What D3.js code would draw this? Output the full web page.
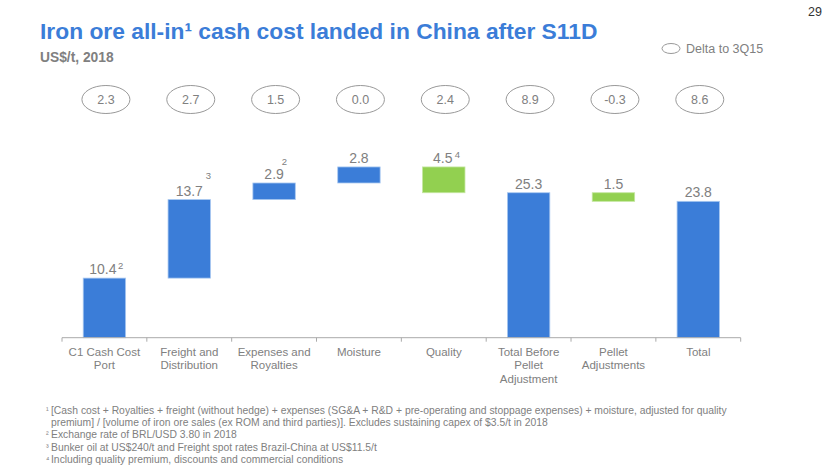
<!DOCTYPE html>
<html><head><meta charset="utf-8">
<script src="https://cdn.jsdelivr.net/npm/d3@7"></script>
<style>
body{margin:0;background:#fff;}
svg{display:block;font-family:"Liberation Sans",Arial,sans-serif;}
</style></head>
<body><svg id="c" width="830" height="467"></svg>
<script>
const categories = [["C1 Cash Cost","Port"],["Freight and","Distribution"],["Expenses and","Royalties"],["Moisture"],["Quality"],["Total Before","Pellet","Adjustment"],["Pellet","Adjustments"],["Total"]];
const values = [10.4, 13.7, 2.9, 2.8, -4.5, 25.3, -1.5, 23.8];
const barTypes = ["total","step","step","step","step","total","step","total"];
const labels = ["10.4","13.7","2.9","2.8","4.5","25.3","1.5","23.8"];
const supers = ["2","3","2","","4","","",""];
const deltas = ["2.3","2.7","1.5","0.0","2.4","8.9","-0.3","8.6"];
const footnotes = [
  ["¹", "[Cash cost + Royalties + freight (without hedge) + expenses (SG&A + R&D + pre-operating and stoppage expenses) + moisture, adjusted for quality"],
  ["", "premium] /  [volume of iron ore sales (ex ROM and third parties)]. Excludes sustaining capex of $3.5/t  in 2018"],
  ["²", "Exchange rate of BRL/USD 3.80 in 2018"],
  ["³", "Bunker oil at US$240/t and Freight spot rates Brazil-China at US$11.5/t"],
  ["⁴", "Including quality premium, discounts and commercial conditions"]
];

const svg = d3.select("#c");
const blue = "#3B7DD8", green = "#92D050", gray = "#808080";

// compute waterfall segments
let run = 0;
const segs = values.map((v,i) => {
  let y0, y1;
  if (barTypes[i] === "total") { y0 = 0; y1 = v; run = v; }
  else { y0 = run; y1 = run + v; run = y1; }
  return {i, lo: Math.min(y0,y1), hi: Math.max(y0,y1), neg: v < 0};
});

const x = d3.scaleBand().domain(d3.range(categories.length)).range([62, 740.7]).paddingInner(0.5).paddingOuter(0.25);
const y = d3.scaleLinear().domain([0, 30]).range([337.7, 165.8]);

// title
svg.append("text").attr("x", 40).attr("y", 38.5).attr("fill", blue)
  .attr("font-size", 22.8).attr("font-weight", "bold")
  .text("Iron ore all-in¹ cash cost landed in China after S11D");
svg.append("text").attr("x", 40).attr("y", 61.7).attr("fill", gray)
  .attr("font-size", 13.8).attr("font-weight", "bold").text("US$/t, 2018");
svg.append("text").attr("x", 822).attr("y", 15.5).attr("text-anchor","end").attr("fill", "#333")
  .attr("font-size", 12.5).text("29");

// legend
svg.append("ellipse").attr("cx", 671).attr("cy", 48.5).attr("rx", 9).attr("ry", 5)
  .attr("fill", "none").attr("stroke", "#999").attr("stroke-width", 1);
svg.append("text").attr("x", 686).attr("y", 52.5).attr("fill", gray).attr("font-size", 12.5).text("Delta to 3Q15");

// bubbles
const bub = svg.append("g").selectAll("g").data(deltas).join("g")
  .attr("transform", (d,i) => `translate(${x(i) + x.bandwidth()/2 + 1.5},99.5)`);
bub.append("ellipse").attr("rx", 24).attr("ry", 14).attr("fill", "none").attr("stroke", "#999").attr("stroke-width", 1);
bub.append("text").attr("text-anchor", "middle").attr("y", 4.5).attr("fill", gray).attr("font-size", 12.5).text(d => d);

// bars
svg.append("g").selectAll("rect").data(segs).join("rect")
  .attr("x", d => x(d.i)).attr("width", x.bandwidth())
  .attr("y", d => y(d.hi)).attr("height", d => y(d.lo) - y(d.hi))
  .attr("fill", d => d.neg ? green : blue)
  .attr("stroke", d => d.neg ? "#c4e6a0" : "#a9c8f0").attr("stroke-width", 0.8);

// value labels
const labShift = [-1.5, 0, 0, 0, -1, 0, 0, 0];
svg.append("g").selectAll("text").data(segs).join("text")
  .attr("x", d => x(d.i) + x.bandwidth()/2 + labShift[d.i])
  .attr("y", d => y(d.hi) - 4)
  .attr("text-anchor", "middle").attr("fill", gray).attr("font-size", 14)
  .text(d => labels[d.i]);

// superscripts (offset from bar centre / bar top)
const supOff = [[13.5, -9.6], [16.5, -20.4], [7.7, -17.7], [0,0], [11, -9], [0,0],[0,0],[0,0]];
svg.append("g").selectAll("text").data(segs.filter(d => supers[d.i])).join("text")
  .attr("x", d => x(d.i) + x.bandwidth()/2 + supOff[d.i][0])
  .attr("y", d => y(d.hi) + supOff[d.i][1])
  .attr("fill", gray).attr("font-size", 9.5)
  .text(d => supers[d.i]);

// axis
const axisG = svg.append("g").attr("transform", "translate(0,337.7)");
axisG.append("line").attr("x1", 62).attr("x2", 740.7).attr("stroke", "#aaa").attr("stroke-width", 1);
const step = x.step();
axisG.selectAll("line.t").data(d3.range(categories.length + 1)).join("line").attr("class","t")
  .attr("x1", i => 62 + i*step).attr("x2", i => 62 + i*step).attr("y1", 0).attr("y2", 4)
  .attr("stroke", "#aaa");
const xl = svg.append("g").selectAll("text").data(categories).join("text")
  .attr("text-anchor", "middle").attr("fill", gray).attr("font-size", 11.5)
  .attr("transform", (d,i) => `translate(${x(i) + x.bandwidth()/2},356)`);
xl.selectAll("tspan").data(d => d).join("tspan").attr("x", 0).attr("dy", (d,j) => j ? 13.3 : 0).text(d => d);

// footnotes
const fn = svg.append("g").attr("font-size", 10.35).attr("fill", gray);
footnotes.forEach((f,k) => {
  const yy = 413.5 + k*12.4;
  if (f[0]) fn.append("text").attr("x", 46).attr("y", yy).attr("font-size", 8).attr("dy", -1).text(f[0]);
  fn.append("text").attr("x", 51).attr("y", yy).text(f[1]);
});
</script></body></html>
